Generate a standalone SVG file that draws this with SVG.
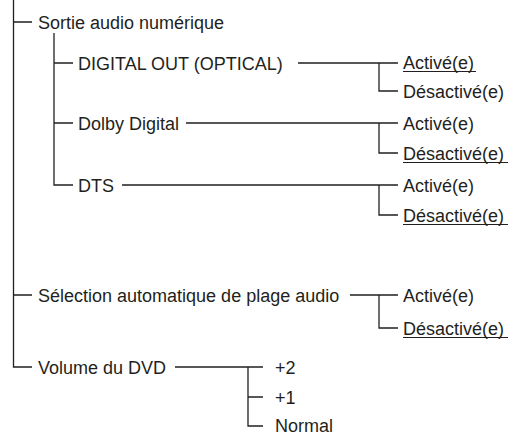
<svg xmlns="http://www.w3.org/2000/svg" width="508" height="435" viewBox="0 0 508 435">
<style>
.t{font-family:"Liberation Sans",Arial,Helvetica,sans-serif;font-size:18px;fill:#231f20}
.c{fill:none;stroke:#231f20;stroke-width:1.3}
.u{fill:none;stroke:#231f20;stroke-width:1}
</style>
<rect width="508" height="435" fill="#fff"/>
<g id="connectors">
<path class="c" d="M13.5 0V367H32M13.5 22H32M13.5 295H32"/>
<path class="c" d="M54 33V185H73M54 63H73M54 123H73"/>
<path class="c" d="M298 63H398M379 63V91H398"/>
<path class="c" d="M186 123H398M379 123V153H398"/>
<path class="c" d="M122 185H398M379 185V215H398"/>
<path class="c" d="M350 295H398M379 295V328H398"/>
<path class="c" d="M175 367H263M248 367V426H263M248 397H263"/>
</g>
<g id="n-sortie"><text class="t" x="38" y="28.5">Sortie audio numérique</text></g>
<g id="n-digital"><text class="t" x="78" y="69.5">DIGITAL OUT (OPTICAL)</text></g>
<g id="n-digital-on"><text class="t" x="403" y="68.5">Activé(e)</text><path class="u" d="M403 71.5H476"/></g>
<g id="n-digital-off"><text class="t" x="403" y="97.5">Désactivé(e)</text></g>
<g id="n-dolby"><text class="t" x="78" y="129.5">Dolby Digital</text></g>
<g id="n-dolby-on"><text class="t" x="403" y="129.5">Activé(e)</text></g>
<g id="n-dolby-off"><text class="t" x="403" y="159.5">Désactivé(e)</text><path class="u" d="M403 162.5H508"/></g>
<g id="n-dts"><text class="t" x="78" y="191.5">DTS</text></g>
<g id="n-dts-on"><text class="t" x="403" y="191.5">Activé(e)</text></g>
<g id="n-dts-off"><text class="t" x="403" y="221.5">Désactivé(e)</text><path class="u" d="M403 224.5H508"/></g>
<g id="n-selection"><text class="t" x="38" y="301.5">Sélection automatique de plage audio</text></g>
<g id="n-sel-on"><text class="t" x="403" y="301.5">Activé(e)</text></g>
<g id="n-sel-off"><text class="t" x="403" y="334.5">Désactivé(e)</text><path class="u" d="M403 337.5H508"/></g>
<g id="n-volume"><text class="t" x="38" y="373.5">Volume du DVD</text></g>
<g id="n-p2"><text class="t" x="275" y="373.5">+2</text></g>
<g id="n-p1"><text class="t" x="275" y="403.5">+1</text></g>
<g id="n-normal"><text class="t" x="275" y="432">Normal</text></g>
</svg>
